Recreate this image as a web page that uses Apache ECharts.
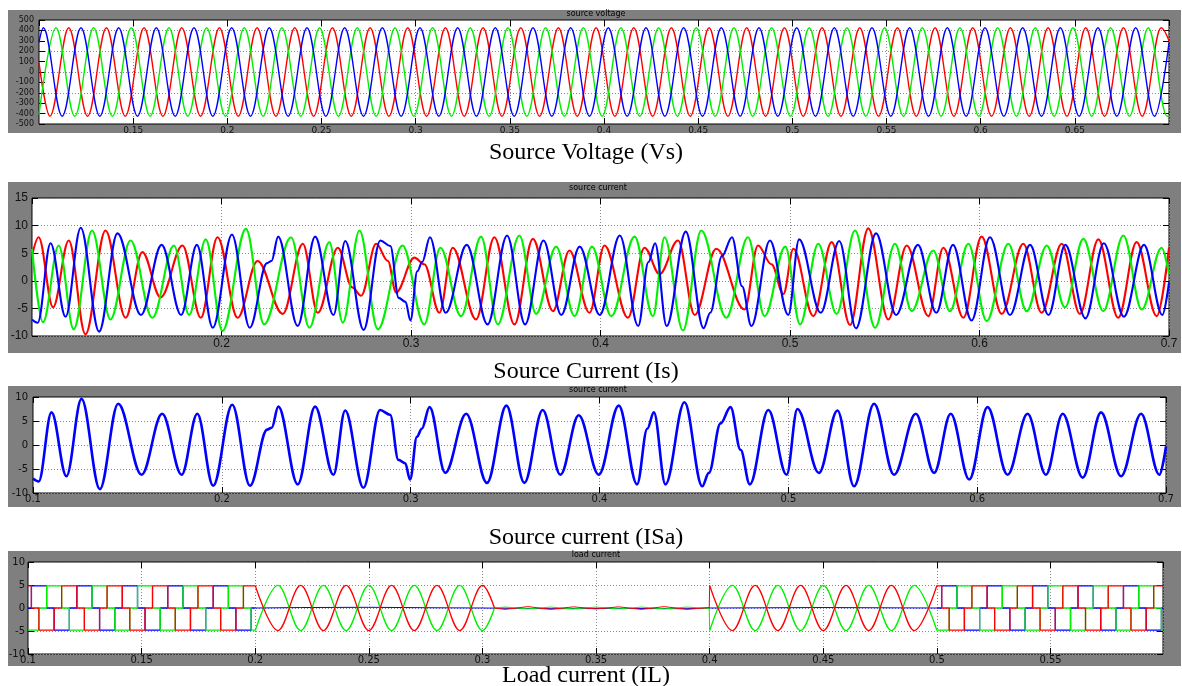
<!DOCTYPE html>
<html><head><meta charset="utf-8">
<script src="https://cdn.jsdelivr.net/npm/echarts@6/dist/echarts.min.js"></script>
<style>html,body{margin:0;padding:0;background:#fff}#c{width:1182px;height:686px}</style>
</head><body><div id="c"></div>
<script>
// ---------- Panel 1: source voltage (extrema) ----------
const vsRedT = [0.1,0.1058,0.1158,0.1258,0.1358,0.1458,0.1558,0.1658,0.1758,0.1858,0.1958,0.2058,0.2158,0.2258,0.2358,0.2458,0.2558,0.2658,0.2758,0.2858,0.2958,0.3058,0.3158,0.3258,0.3358,0.3458,0.3558,0.3658,0.3758,0.3858,0.3958,0.4058,0.4158,0.4258,0.4358,0.4458,0.4558,0.4658,0.4758,0.4858,0.4958,0.5058,0.5158,0.5258,0.5358,0.5458,0.5558,0.5658,0.5758,0.5858,0.5958,0.6058,0.6158,0.6258,0.6358,0.6458,0.6558,0.6658,0.6758,0.6858,0.6958,0.7];
const vsRedV = [90,-425,425,-425,425,-425,425,-425,425,-425,425,-425,425,-425,425,-425,425,-425,425,-425,425,-425,425,-425,425,-425,425,-425,425,-425,425,-425,425,-425,425,-425,425,-425,425,-425,425,-425,425,-425,425,-425,425,-425,425,-425,425,-425,425,-425,425,-425,425,-425,425,-425,425,300];
const vsGreenT = [0.1,0.1090,0.1190,0.1290,0.1390,0.1490,0.1590,0.1690,0.1790,0.1890,0.1990,0.2090,0.2190,0.2290,0.2390,0.2490,0.2590,0.2690,0.2790,0.2890,0.2990,0.3090,0.3190,0.3290,0.3390,0.3490,0.3590,0.3690,0.3790,0.3890,0.3990,0.4090,0.4190,0.4290,0.4390,0.4490,0.4590,0.4690,0.4790,0.4890,0.4990,0.5090,0.5190,0.5290,0.5390,0.5490,0.5590,0.5690,0.5790,0.5890,0.5990,0.6090,0.6190,0.6290,0.6390,0.6490,0.6590,0.6690,0.6790,0.6890,0.6990,0.7];
const vsGreenV = [-410,425,-425,425,-425,425,-425,425,-425,425,-425,425,-425,425,-425,425,-425,425,-425,425,-425,425,-425,425,-425,425,-425,425,-425,425,-425,425,-425,425,-425,425,-425,425,-425,425,-425,425,-425,425,-425,425,-425,425,-425,425,-425,425,-425,425,-425,425,-425,425,-425,425,-425,-415];
const vsBlueT = [0.1,0.1023,0.1123,0.1223,0.1323,0.1423,0.1523,0.1623,0.1723,0.1823,0.1923,0.2023,0.2123,0.2223,0.2323,0.2423,0.2523,0.2623,0.2723,0.2823,0.2923,0.3023,0.3123,0.3223,0.3323,0.3423,0.3523,0.3623,0.3723,0.3823,0.3923,0.4023,0.4123,0.4223,0.4323,0.4423,0.4523,0.4623,0.4723,0.4823,0.4923,0.5023,0.5123,0.5223,0.5323,0.5423,0.5523,0.5623,0.5723,0.5823,0.5923,0.6023,0.6123,0.6223,0.6323,0.6423,0.6523,0.6623,0.6723,0.6823,0.6923,0.7];
const vsBlueV = [284,425,-425,425,-425,425,-425,425,-425,425,-425,425,-425,425,-425,425,-425,425,-425,425,-425,425,-425,425,-425,425,-425,425,-425,425,-425,425,-425,425,-425,425,-425,425,-425,425,-425,425,-425,425,-425,425,-425,425,-425,425,-425,425,-425,425,-425,425,-425,425,-425,425,-425,280];

// ---------- Panels 2 & 3: source current (peaks / troughs / shoulders) ----------
const isRed = [[0.1000,4.5],[0.1035,7.9],[0.1111,-4.8],[0.1194,7.3],[0.1282,-9.7],[0.1388,9.1],[0.1494,-6.7],[0.1582,5.2],[0.1679,-3.0],[0.1794,6.4],[0.1891,-6.7],[0.1979,7.9],[0.2085,-6.7],[0.2190,3.6],[0.2323,-6.0],[0.2429,6.7],[0.2508,-5.8],[0.2614,6.0],[0.2690,-1.2],[0.2737,-2.7],[0.2816,6.7],[0.2878,3.6],[0.2921,-2.1],[0.3018,4.2],[0.3070,3.0],[0.3150,-5.8],[0.3220,6.0],[0.3343,-7.0],[0.3440,7.9],[0.3546,-7.9],[0.3643,7.6],[0.3749,-5.5],[0.3836,5.5],[0.3942,-5.8],[0.4021,6.4],[0.4145,-6.7],[0.4232,6.0],[0.4312,1.2],[0.4409,7.3],[0.4497,-6.2],[0.4611,5.8],[0.4760,-5.2],[0.4831,6.4],[0.4902,3.0],[0.4965,-2.4],[0.5018,5.8],[0.5123,-6.4],[0.5220,7.0],[0.5317,-8.0],[0.5413,9.5],[0.5519,-7.0],[0.5616,6.4],[0.5730,-6.4],[0.5809,6.0],[0.5915,-6.7],[0.6011,8.0],[0.6117,-6.0],[0.6231,6.7],[0.6328,-5.8],[0.6434,6.7],[0.6530,-6.0],[0.6627,7.5],[0.6732,-6.7],[0.6829,7.0],[0.6935,-6.4],[0.7000,6.0]];
const isGreen = [[0.1000,5.8],[0.1058,-7.5],[0.1141,6.4],[0.1220,-8.8],[0.1317,9.1],[0.1414,-7.0],[0.1520,7.3],[0.1635,-6.7],[0.1749,6.4],[0.1829,-6.2],[0.1917,7.5],[0.2005,-9.1],[0.2129,9.4],[0.2225,-7.9],[0.2367,7.9],[0.2464,-8.5],[0.2569,7.0],[0.2640,-7.6],[0.2728,9.1],[0.2825,-8.8],[0.2955,6.4],[0.3070,-7.9],[0.3155,6.0],[0.3264,-6.4],[0.3370,8.0],[0.3458,-7.9],[0.3572,8.2],[0.3660,-6.0],[0.3766,6.2],[0.3863,-6.4],[0.3955,6.2],[0.4057,-6.4],[0.4180,8.0],[0.4277,-6.4],[0.4338,7.9],[0.4435,-9.0],[0.4532,9.1],[0.4664,-6.7],[0.4778,7.9],[0.4866,-6.4],[0.4975,6.2],[0.5053,-7.9],[0.5149,6.7],[0.5246,-6.0],[0.5343,9.1],[0.5449,-8.5],[0.5554,6.7],[0.5642,-5.5],[0.5756,5.5],[0.5844,-5.5],[0.5941,6.7],[0.6038,-7.3],[0.6152,6.7],[0.6249,-5.5],[0.6355,6.4],[0.6451,-4.8],[0.6548,7.6],[0.6653,-5.5],[0.6759,8.2],[0.6856,-5.2],[0.6961,6.0],[0.7000,1.2]];
const isaBlue = [[0.1000,-7.0],[0.1030,-7.6],[0.1098,6.8],[0.1177,-6.5],[0.1257,9.6],[0.1354,-9.2],[0.1451,8.6],[0.1575,-6.2],[0.1684,6.5],[0.1787,-6.2],[0.1870,6.5],[0.1954,-8.5],[0.2055,8.4],[0.2149,-8.5],[0.2240,3.2],[0.2264,3.6],[0.2299,8.0],[0.2402,-8.2],[0.2494,8.0],[0.2591,-6.2],[0.2653,7.2],[0.2750,-8.9],[0.2838,7.3],[0.2891,6.3],[0.2935,-3.1],[0.2971,-3.8],[0.2997,-7.2],[0.3033,1.7],[0.3059,3.4],[0.3100,7.9],[0.3183,-5.8],[0.3294,6.5],[0.3404,-7.9],[0.3507,8.2],[0.3602,-7.9],[0.3699,7.3],[0.3793,-6.2],[0.3890,6.2],[0.3996,-6.2],[0.4102,8.2],[0.4199,-8.2],[0.4253,3.4],[0.4288,6.8],[0.4349,-8.2],[0.4450,8.9],[0.4544,-8.6],[0.4579,-5.8],[0.4641,4.5],[0.4694,7.9],[0.4747,-1.0],[0.4796,-8.2],[0.4894,7.3],[0.4991,-6.2],[0.5048,7.5],[0.5162,-5.8],[0.5260,7.2],[0.5348,-8.6],[0.5454,8.6],[0.5560,-6.2],[0.5675,6.5],[0.5772,-5.8],[0.5860,6.5],[0.5958,-7.2],[0.6055,7.9],[0.6161,-6.2],[0.6267,6.5],[0.6364,-6.2],[0.6453,6.5],[0.6559,-6.8],[0.6656,6.8],[0.6762,-6.5],[0.6868,6.5],[0.6965,-6.2],[0.7000,-0.3]];

// ---------- Panel 4: load current (switching instants & levels) ----------
const ilSq1Red = [[0.1,4.8],[0.1015,0],[0.1048,-4.8],[0.1115,0],[0.1148,4.8],[0.1215,0],[0.1248,-4.8],[0.1315,0],[0.1348,4.8],[0.1415,0],[0.1448,-4.8],[0.1515,0],[0.1548,4.8],[0.1615,0],[0.1648,-4.8],[0.1715,0],[0.1748,4.8],[0.1815,0],[0.1848,-4.8],[0.1915,0],[0.1948,4.8],[0.2,4.8]];
const ilSq1Green = [[0.1,-4.8],[0.1048,0],[0.1082,4.8],[0.1148,0],[0.1182,-4.8],[0.1248,0],[0.1282,4.8],[0.1348,0],[0.1382,-4.8],[0.1448,0],[0.1482,4.8],[0.1548,0],[0.1582,-4.8],[0.1648,0],[0.1682,4.8],[0.1748,0],[0.1782,-4.8],[0.1848,0],[0.1882,4.8],[0.1948,0],[0.1982,-4.8],[0.2,-4.8]];
const ilSq1Blue = [[0.1,0],[0.1015,4.8],[0.1082,0],[0.1115,-4.8],[0.1182,0],[0.1215,4.8],[0.1282,0],[0.1315,-4.8],[0.1382,0],[0.1415,4.8],[0.1482,0],[0.1515,-4.8],[0.1582,0],[0.1615,4.8],[0.1682,0],[0.1715,-4.8],[0.1782,0],[0.1815,4.8],[0.1882,0],[0.1915,-4.8],[0.1982,0],[0.2,0]];
const ilSq2Red = [[0.5,4.8],[0.5021,0],[0.5054,-4.8],[0.5121,0],[0.5154,4.8],[0.5221,0],[0.5254,-4.8],[0.5321,0],[0.5354,4.8],[0.5421,0],[0.5454,-4.8],[0.5521,0],[0.5554,4.8],[0.5621,0],[0.5654,-4.8],[0.5721,0],[0.5754,4.8],[0.5821,0],[0.5854,-4.8],[0.5921,0],[0.5954,4.8],[0.5995,4.8]];
const ilSq2Green = [[0.5,-4.8],[0.5054,0],[0.5088,4.8],[0.5154,0],[0.5188,-4.8],[0.5254,0],[0.5288,4.8],[0.5354,0],[0.5388,-4.8],[0.5454,0],[0.5488,4.8],[0.5554,0],[0.5588,-4.8],[0.5654,0],[0.5688,4.8],[0.5754,0],[0.5788,-4.8],[0.5854,0],[0.5888,4.8],[0.5954,0],[0.5988,-4.8],[0.5995,-4.8]];
const ilSq2Blue = [[0.5,0],[0.5021,4.8],[0.5088,0],[0.5121,-4.8],[0.5188,0],[0.5221,4.8],[0.5288,0],[0.5321,-4.8],[0.5388,0],[0.5421,4.8],[0.5488,0],[0.5521,-4.8],[0.5588,0],[0.5621,4.8],[0.5688,0],[0.5721,-4.8],[0.5788,0],[0.5821,4.8],[0.5888,0],[0.5921,-4.8],[0.5988,0],[0.5995,0]];
const ilSin1T = [0.20,0.21,0.22,0.23,0.24,0.25,0.26,0.27,0.28,0.29,0.30,0.3053];
const ilSin1Red = [4.9,-4.9,4.9,-4.9,4.9,-4.9,4.9,-4.9,4.9,-4.9,4.9,0];
const ilSin1Green = [-4.9,4.9,-4.9,4.9,-4.9,4.9,-4.9,4.9,-4.9,4.9,-4.9,0];
const ilSin2T = [0.40,0.41,0.42,0.43,0.44,0.45,0.46,0.47,0.48,0.49,0.50];
const ilSin2Red = [4.9,-4.9,4.9,-4.9,4.9,-4.9,4.9,-4.9,4.9,-4.9,4.9];
const ilSin2Green = [-4.9,4.9,-4.9,4.9,-4.9,4.9,-4.9,4.9,-4.9,4.9,-4.9];
const ilMidRed = [[0.3053,0],[0.31,-0.3],[0.32,0.3],[0.33,-0.3],[0.34,0.25],[0.35,-0.2],[0.36,0.25],[0.37,-0.3],[0.38,0.3],[0.39,-0.3],[0.3998,0.1],[0.4,4.9]];
const ilMidGreen = [[0.3053,0],[0.31,0.2],[0.32,-0.2],[0.33,0.2],[0.34,-0.2],[0.35,0.2],[0.36,-0.2],[0.37,0.2],[0.38,-0.2],[0.39,0.2],[0.3998,-0.1],[0.4,-4.9]];
const ilBlueLow = [[0.2,0],[0.22,0.1],[0.25,0.15],[0.28,0.05],[0.3,0],[0.33,-0.15],[0.36,-0.1],[0.39,-0.15],[0.4,0],[0.45,0.1],[0.5,0]];

// ---------- axis ranges / tick steps ----------
const p1Range = {xmin:0.1, xmax:0.7, xstep:0.05, ymin:-500, ymax:500, ystep:100};
const p2Range = {xmin:0.1, xmax:0.7, xstep:0.1, ymin:-10, ymax:15, ystep:5};
const p3Range = {xmin:0.1, xmax:0.7, xstep:0.1, ymin:-10, ymax:10, ystep:5};
const p4Range = {xmin:0.1, xmax:0.5995, xstep:0.05, ymin:-10, ymax:10, ystep:5};

const RED = '#ff0000', GREEN = '#00f000', BLUE = '#0000ff';
const GRAY = '#7f7f7f';

function zip(ts, vs){ return ts.map((t,i)=>[t, vs[i]]); }

const grids = [
  {left:39, top:20, width:1130, height:104},
  {left:32, top:198, width:1137, height:138},
  {left:33, top:397, width:1133, height:96},
  {left:28, top:562, width:1135, height:92}
].map(g => Object.assign(g, {show:true, backgroundColor:'#fff', borderColor:'#000', borderWidth:1, containLabel:false}));

const ranges = [p1Range, p2Range, p3Range, p4Range];
const labelFonts = [
  {x:{fontFamily:'DejaVu Sans', fontSize:9, margin:2}, y:{fontFamily:'DejaVu Sans', fontSize:8, margin:5}, minX:false, maxX:false},
  {x:{fontFamily:'Liberation Sans', fontSize:12, margin:2}, y:{fontFamily:'Liberation Sans', fontSize:12, margin:4}, minX:false, maxX:true},
  {x:{fontFamily:'DejaVu Sans', fontSize:10, margin:1}, y:{fontFamily:'DejaVu Sans', fontSize:10, margin:5}, minX:true, maxX:true},
  {x:{fontFamily:'DejaVu Sans', fontSize:10, margin:1}, y:{fontFamily:'DejaVu Sans', fontSize:10, margin:3}, minX:true, maxX:false}
];
const dotted = {color:'#8a8a8a', width:1, type:[1,2]};
const tick = {show:true, inside:true, length:6, lineStyle:{color:'#000'}};
const noLine = {show:false, onZero:false};

const xAxis = [], yAxis = [];
ranges.forEach((r, i) => {
  const lf = labelFonts[i];
  xAxis.push({type:'value', gridIndex:i, position:'bottom', min:r.xmin, max:r.xmax, interval:r.xstep,
    axisLine:noLine, axisTick:tick,
    axisLabel:Object.assign({color:'#111', showMinLabel:lf.minX, showMaxLabel:lf.maxX, formatter:v=>String(+v.toFixed(2))}, lf.x),
    splitLine:{show:true, lineStyle:dotted}});
  xAxis.push({type:'value', gridIndex:i, position:'top', min:r.xmin, max:r.xmax, interval:r.xstep,
    axisLine:noLine, axisTick:tick, axisLabel:{show:false}, splitLine:{show:false}});
  const split = i === 0 ? {show:true, lineStyle:{color:['rgba(0,0,0,0)','#8a8a8a'], width:1, type:[1,2]}} : {show:true, lineStyle:dotted};
  yAxis.push({type:'value', gridIndex:i, position:'left', min:r.ymin, max:r.ymax, interval:r.ystep,
    axisLine:noLine, axisTick:tick,
    axisLabel:Object.assign({color:'#111', formatter:v=>String(Math.round(v))}, lf.y),
    splitLine:split});
  yAxis.push({type:'value', gridIndex:i, position:'right', min:r.ymin, max:r.ymax, interval:r.ystep,
    axisLine:noLine, axisTick:tick, axisLabel:{show:false}, splitLine:{show:false}});
});

const SM = {smooth:0.36, smoothMonotone:'x'};
function line(data, color, w, gi, extra){
  return Object.assign({type:'line', data:data, xAxisIndex:2*gi, yAxisIndex:2*gi, showSymbol:false, symbol:'none',
    silent:true, animation:false, clip:true, lineStyle:{color:color, width:w}, itemStyle:{color:color}}, extra||{});
}

const series = [
  line(zip(vsRedT, vsRedV), RED, 1.4, 0, SM),
  line(zip(vsGreenT, vsGreenV), GREEN, 1.4, 0, SM),
  line(zip(vsBlueT, vsBlueV), BLUE, 1.4, 0, SM),

  line(isRed, RED, 2.1, 1, SM),
  line(isGreen, GREEN, 2.1, 1, SM),
  line(isaBlue, BLUE, 2.1, 1, SM),

  line(isaBlue, BLUE, 2.6, 2, SM),

  line(ilBlueLow, BLUE, 1, 3),
  line(ilSq1Blue, BLUE, 1.3, 3, {step:'end'}),
  line(ilSq2Blue, BLUE, 1.3, 3, {step:'end'}),
  line(ilSq1Green, GREEN, 1.3, 3, {step:'end'}),
  line(ilSq2Green, GREEN, 1.3, 3, {step:'end'}),
  line(ilSq1Red, RED, 1.3, 3, {step:'end'}),
  line(ilSq2Red, RED, 1.3, 3, {step:'end'}),
  line(zip(ilSin1T, ilSin1Green), GREEN, 1.3, 3, SM),
  line(zip(ilSin2T, ilSin2Green), GREEN, 1.3, 3, SM),
  line(ilMidGreen, GREEN, 1, 3),
  line(zip(ilSin1T, ilSin1Red), RED, 1.3, 3, SM),
  line(zip(ilSin2T, ilSin2Red), RED, 1.3, 3, SM),
  line(ilMidRed, RED, 1, 3)
];

const panelTitle = {fontFamily:'DejaVu Sans', fontSize:8, fontWeight:'normal', color:'#000'};
const capStyle = {fontFamily:'Liberation Serif', fontSize:24, fontWeight:'normal', color:'#000'};
const title = [
  {text:'source voltage', left:596, top:10, textAlign:'center', padding:0, textStyle:panelTitle},
  {text:'source current', left:598, top:184, textAlign:'center', padding:0, textStyle:panelTitle},
  {text:'source current', left:598, top:386, textAlign:'center', padding:0, textStyle:panelTitle},
  {text:'load current', left:596, top:551, textAlign:'center', padding:0, textStyle:panelTitle},
  {text:'Source Voltage (Vs)', left:586, top:141, textAlign:'center', padding:0, textStyle:capStyle},
  {text:'Source Current (Is)', left:586, top:360, textAlign:'center', padding:0, textStyle:capStyle},
  {text:'Source current (ISa)', left:586, top:526, textAlign:'center', padding:0, textStyle:capStyle},
  {text:'Load current (IL)', left:586, top:664, textAlign:'center', padding:0, textStyle:capStyle}
];

const frames = [[8,10,1173,123],[8,182,1173,171],[8,386,1173,121],[8,551,1173,115]];
const graphic = frames.map(f => ({type:'rect', z:-100, silent:true, shape:{x:f[0], y:f[1], width:f[2], height:f[3]}, style:{fill:GRAY}}));

const chart = echarts.init(document.getElementById('c'));
chart.setOption({animation:false, backgroundColor:'#fff', title, grid:grids, xAxis, yAxis, series, graphic});
</script>
</body></html>
